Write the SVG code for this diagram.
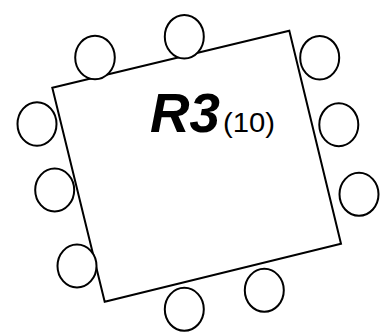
<svg xmlns="http://www.w3.org/2000/svg" width="383" height="335" viewBox="0 0 383 335">
<style>
.seat{fill:#fff;stroke:#000;stroke-width:2}
.tbl{fill:none;stroke:#000;stroke-width:2;stroke-linejoin:miter}
.t{font-family:"Liberation Sans",Arial,sans-serif;fill:#000}
</style>
<rect width="383" height="335" fill="#fff"/>
<g id="table">
<polygon class="tbl" points="52.3,87.7 289.3,30.7 341,243.7 104.7,301.7"/>
<text class="t" x="150" y="132.3" font-size="56" font-weight="bold" font-style="italic" textLength="70" lengthAdjust="spacingAndGlyphs">R3</text>
<text class="t" x="223" y="132.3" font-size="27" textLength="52" lengthAdjust="spacingAndGlyphs">(10)</text>
</g>
<g id="seats">
<g id="seat1"><ellipse class="seat" cx="184.3" cy="36.7" rx="19.5" ry="21.8"/></g>
<g id="seat2"><ellipse class="seat" cx="95" cy="57.5" rx="19.8" ry="21.8"/></g>
<g id="seat3"><ellipse class="seat" cx="319.7" cy="57.7" rx="19.5" ry="21.8"/></g>
<g id="seat4"><ellipse class="seat" cx="37" cy="124" rx="19.5" ry="21.8"/></g>
<g id="seat5"><ellipse class="seat" cx="338.8" cy="124.7" rx="19.5" ry="21.5"/></g>
<g id="seat6"><ellipse class="seat" cx="54.7" cy="190" rx="19.5" ry="21.5"/></g>
<g id="seat7"><ellipse class="seat" cx="359" cy="194.3" rx="19.5" ry="21.5"/></g>
<g id="seat8"><ellipse class="seat" cx="77" cy="266" rx="19.5" ry="21.5"/></g>
<g id="seat9"><ellipse class="seat" cx="184.3" cy="309.3" rx="19.5" ry="21.5"/></g>
<g id="seat10"><ellipse class="seat" cx="264.3" cy="290.3" rx="19.5" ry="21.5"/></g>
</g>
</svg>
